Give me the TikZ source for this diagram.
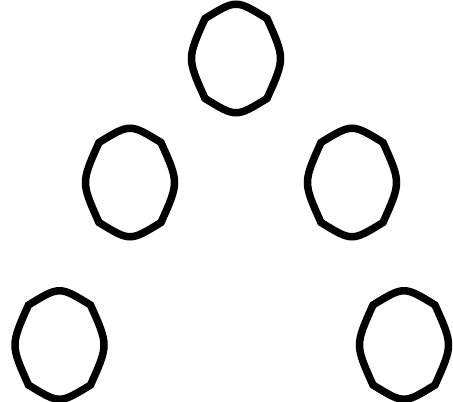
\documentclass[tikz,border=0pt]{standalone}
\begin{document}
\begin{tikzpicture}[x=1pt,y=1pt,
  ovalline/.style={draw=black,line width=7.5pt},
  pics/oval/.style={code={
    \draw[ovalline] (-31,40) .. controls (0,59) .. (31,40)
      .. controls (49,0) .. (31,-40)
      .. controls (0,-59) .. (-31,-40)
      .. controls (-49,0) .. (-31,40) -- cycle;}}]
\useasboundingbox (0,0) rectangle (453,-402);
\coordinate (top) at (236,-58.5);
\coordinate (ml) at (130,-182.5);
\coordinate (mr) at (352,-182.5);
\coordinate (bl) at (59.5,-345);
\coordinate (br) at (404,-345);
\foreach \c in {top,ml,mr,bl,br} \pic at (\c) {oval};
\end{tikzpicture}
\end{document}
